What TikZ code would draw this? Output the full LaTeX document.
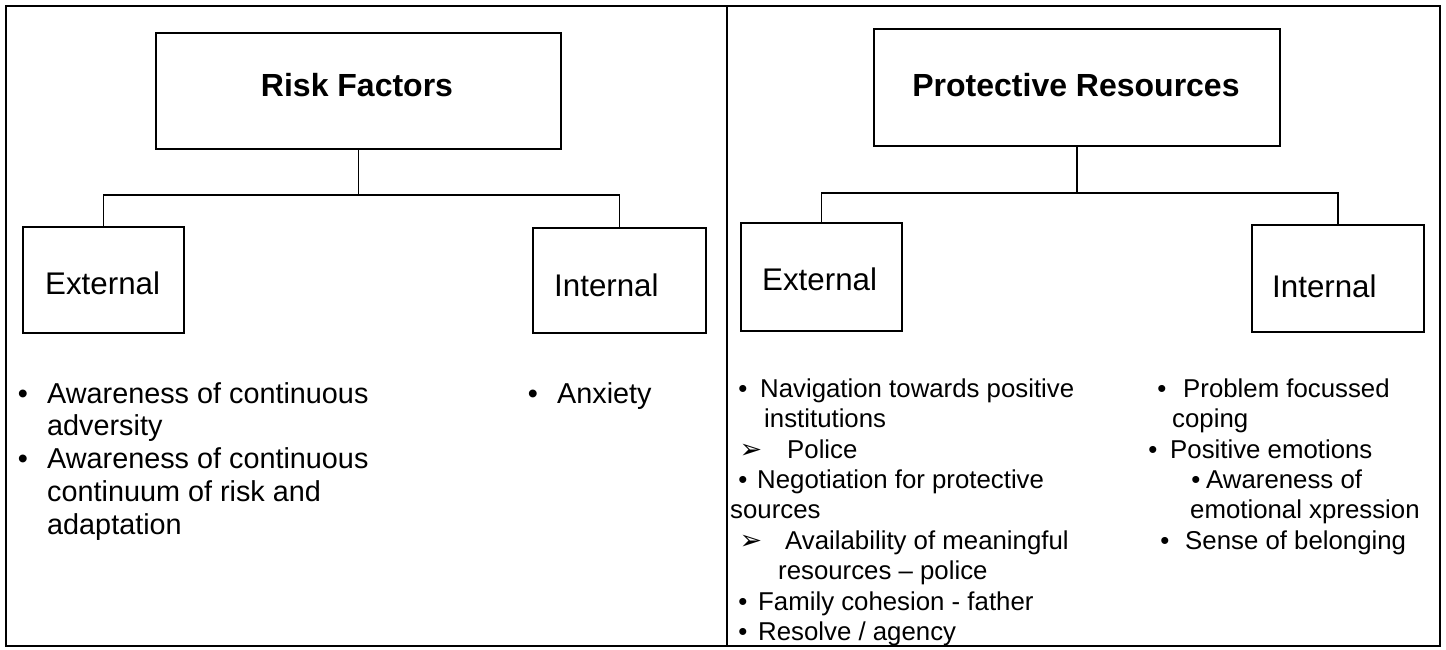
\documentclass[tikz,border=0pt]{standalone}
\usepackage{fontspec}
\setmainfont{Liberation Sans}
\newfontfamily\symfont{DejaVu Sans}
\tikzset{
  frame/.style={line width=2.5pt},
  box/.style={draw, line width=1.8pt, inner sep=0pt, anchor=north west},
  conn/.style={line width=1.4pt},
  title/.style={font=\fontsize{32}{36}\selectfont\bfseries, anchor=base, inner sep=0pt},
  sub/.style={font=\fontsize{31.3}{36}\selectfont, anchor=base west, inner sep=0pt},
  litem/.style={font=\fontsize{28.8}{32}\selectfont, anchor=base west, inner sep=0pt},
  ritem/.style={font=\fontsize{25.8}{30}\selectfont, anchor=base west, inner sep=0pt},
  lbul/.style={font=\fontsize{28.8}{32}\selectfont, anchor=base, inner sep=0pt},
  rbul/.style={font=\fontsize{25.8}{30}\selectfont, anchor=base, inner sep=0pt},
  arrbul/.style={font=\symfont\fontsize{27}{30}\selectfont, anchor=base, inner sep=0pt},
}
\begin{document}
\begin{tikzpicture}[x=1pt, y=-1pt]
\useasboundingbox (0,0) rectangle (1446,650);

% outer table frame with two panels
\draw[frame] (6,6) rectangle (1440,646);
\draw[frame] (727,6) -- (727,646);

% ---------- left panel: risk factors ----------
\node[box, minimum width=405pt, minimum height=116pt] (risk) at (155,32) {};
\node[title] (riskT) at (357,97) {Risk Factors};
\node[box, minimum width=161pt, minimum height=106pt] (extL) at (22,226) {};
\node[sub] (extLT) at (45,294) {External};
\node[box, minimum width=173pt, minimum height=105pt] (intL) at (532,227) {};
\node[sub] (intLT) at (554,296) {Internal};

\draw[conn] (risk.south) -- (risk.south |- 0,195);
\draw[conn] (extL.north) -- (extL.north |- 0,195) -- (intL.north |- 0,195) -- (intL.north);

\node[lbul] (lb1) at (23,403) {•};
\node[litem] (l1) at (47,403) {Awareness of continuous};
\node[litem] (l2) at (47,435) {adversity};
\node[lbul] (lb2) at (23,468) {•};
\node[litem] (l3) at (47,468) {Awareness of continuous};
\node[litem] (l4) at (47,501) {continuum of risk and};
\node[litem] (l5) at (47,534) {adaptation};

\node[lbul] (ab1) at (533,403) {•};
\node[litem] (a1) at (557,403) {Anxiety};

% ---------- right panel: protective resources ----------
\node[box, minimum width=406pt, minimum height=117pt] (prot) at (873,28) {};
\node[title] (protT) at (1076,97) {Protective Resources};
\node[box, minimum width=161pt, minimum height=108pt] (extR) at (740,222) {};
\node[sub] (extRT) at (762,290) {External};
\node[box, minimum width=172pt, minimum height=107pt] (intR) at (1251,224) {};
\node[sub] (intRT) at (1272,297) {Internal};

\draw[conn] (prot.south) -- (prot.south |- 0,193);
\draw[conn] (extR.north) -- (extR.north |- 0,193) -- (intR.north |- 0,193) -- (intR.north);

% external resources
\node[rbul] (rb1) at (743,397) {•};
\node[ritem] (r1) at (760,397) {Navigation towards positive};
\node[ritem] (r2) at (764,427) {institutions};
\node[arrbul] (ra1) at (751,458) {➢};
\node[ritem] (r3) at (787,458) {Police};
\node[rbul] (rb2) at (743,488) {•};
\node[ritem] (r4) at (757,488) {Negotiation for protective};
\node[ritem] (r5) at (730,518) {sources};
\node[arrbul] (ra2) at (751,549) {➢};
\node[ritem] (r6) at (785,549) {Availability of meaningful};
\node[ritem] (r7) at (778,579) {resources – police};
\node[rbul] (rb3) at (743,610) {•};
\node[ritem] (r8) at (758,610) {Family cohesion - father};
\node[rbul] (rb4) at (743,640) {•};
\node[ritem] (r9) at (758,640) {Resolve / agency};

% internal resources
\node[rbul] (sb1) at (1162,397) {•};
\node[ritem] (s1) at (1183,397) {Problem focussed};
\node[ritem] (s2) at (1172,427) {coping};
\node[rbul] (sb2) at (1153,458) {•};
\node[ritem] (s3) at (1170,458) {Positive emotions};
\node[rbul] (sb3) at (1196,488) {•};
\node[ritem] (s4) at (1206,488) {Awareness of};
\node[ritem] (s5) at (1190,518) {emotional xpression};
\node[rbul] (sb4) at (1165,549) {•};
\node[ritem] (s6) at (1185,549) {Sense of belonging};
\end{tikzpicture}
\end{document}
